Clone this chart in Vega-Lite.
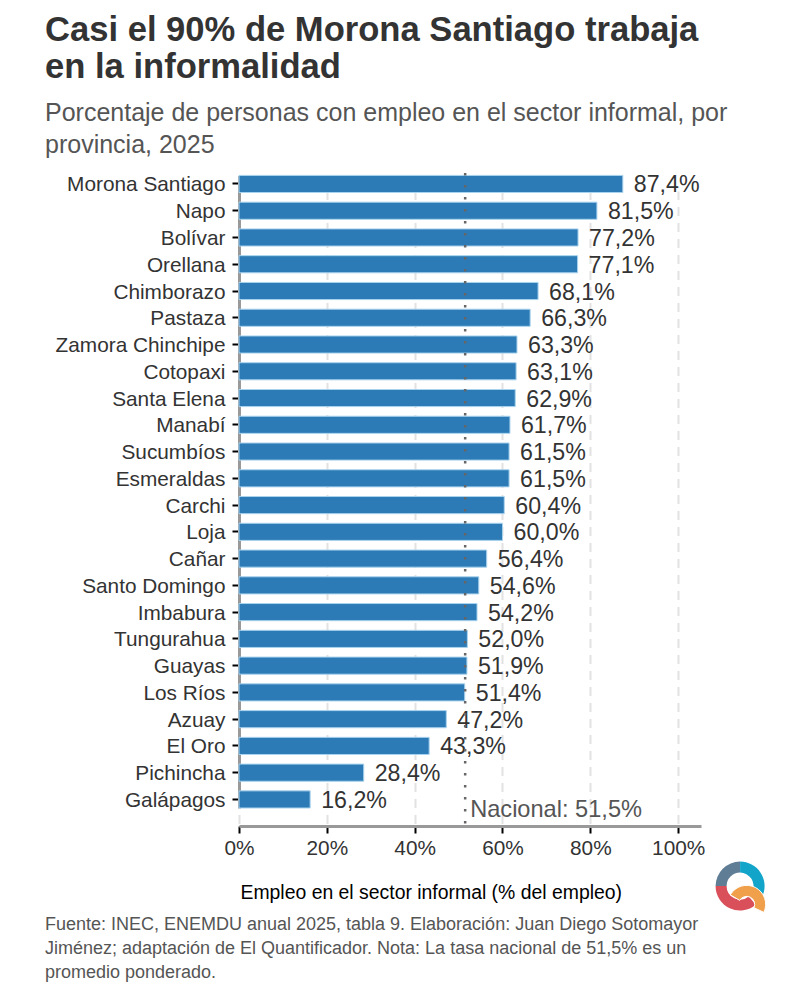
{
  "$schema": "https://vega.github.io/schema/vega-lite/v6.json",
  "width": 462,
  "height": 653,
  "autosize": {"type": "none"},
  "padding": {"left": 239, "top": 173, "right": 99, "bottom": 174},
  "background": "white",
  "view": {"stroke": null},
  "config": {"font": "Liberation Sans"},
  "title": {
    "text": ["Casi el 90% de Morona Santiago trabaja", "en la informalidad"],
    "subtitle": ["Porcentaje de personas con empleo en el sector informal, por", "provincia, 2025"],
    "anchor": "start",
    "frame": "group",
    "dx": -194,
    "offset": 13,
    "font": "Liberation Sans",
    "fontSize": 34.6,
    "fontWeight": "bold",
    "color": "#333333",
    "lineHeight": 37,
    "subtitleFont": "Liberation Sans",
    "subtitleFontSize": 25,
    "subtitleColor": "#555555",
    "subtitleLineHeight": 32,
    "subtitlePadding": 15
  },
  "data": {
    "values": [
      {"provincia": "Morona Santiago", "valor": 87.4, "etiqueta": "87,4%"},
      {"provincia": "Napo", "valor": 81.5, "etiqueta": "81,5%"},
      {"provincia": "Bolívar", "valor": 77.2, "etiqueta": "77,2%"},
      {"provincia": "Orellana", "valor": 77.1, "etiqueta": "77,1%"},
      {"provincia": "Chimborazo", "valor": 68.1, "etiqueta": "68,1%"},
      {"provincia": "Pastaza", "valor": 66.3, "etiqueta": "66,3%"},
      {"provincia": "Zamora Chinchipe", "valor": 63.3, "etiqueta": "63,3%"},
      {"provincia": "Cotopaxi", "valor": 63.1, "etiqueta": "63,1%"},
      {"provincia": "Santa Elena", "valor": 62.9, "etiqueta": "62,9%"},
      {"provincia": "Manabí", "valor": 61.7, "etiqueta": "61,7%"},
      {"provincia": "Sucumbíos", "valor": 61.5, "etiqueta": "61,5%"},
      {"provincia": "Esmeraldas", "valor": 61.5, "etiqueta": "61,5%"},
      {"provincia": "Carchi", "valor": 60.4, "etiqueta": "60,4%"},
      {"provincia": "Loja", "valor": 60.0, "etiqueta": "60,0%"},
      {"provincia": "Cañar", "valor": 56.4, "etiqueta": "56,4%"},
      {"provincia": "Santo Domingo", "valor": 54.6, "etiqueta": "54,6%"},
      {"provincia": "Imbabura", "valor": 54.2, "etiqueta": "54,2%"},
      {"provincia": "Tungurahua", "valor": 52.0, "etiqueta": "52,0%"},
      {"provincia": "Guayas", "valor": 51.9, "etiqueta": "51,9%"},
      {"provincia": "Los Ríos", "valor": 51.4, "etiqueta": "51,4%"},
      {"provincia": "Azuay", "valor": 47.2, "etiqueta": "47,2%"},
      {"provincia": "El Oro", "valor": 43.3, "etiqueta": "43,3%"},
      {"provincia": "Pichincha", "valor": 28.4, "etiqueta": "28,4%"},
      {"provincia": "Galápagos", "valor": 16.2, "etiqueta": "16,2%"}
    ]
  },
  "resolve": {"scale": {"y": "independent"}},
  "layer": [
    {
      "mark": {"type": "bar", "color": "#2c7bb6", "stroke": "#a9d3ee", "strokeWidth": 1},
      "encoding": {
        "y": {
          "field": "provincia",
          "type": "nominal",
          "sort": null,
          "title": null,
          "scale": {"range": [2.4, 635], "paddingInner": 0.36, "paddingOuter": 0},
          "axis": {
            "labelFontSize": 20.8,
            "labelColor": "#333333",
            "labelPadding": 7,
            "labelOffset": 1.5,
            "labelLimit": 220,
            "tickColor": "#000000",
            "tickSize": 7,
            "tickWidth": 2,
            "domainColor": "#999999",
            "domainWidth": 3
          }
        },
        "x": {
          "field": "valor",
          "type": "quantitative",
          "scale": {"domain": [0, 105.2], "nice": false},
          "title": "Empleo en el sector informal (% del empleo)",
          "axis": {
            "values": [0, 20, 40, 60, 80, 100],
            "labelExpr": "datum.value + '%'",
            "labelFontSize": 20.8,
            "labelColor": "#333333",
            "labelPadding": 5,
            "labelFlush": false,
            "tickColor": "#000000",
            "tickSize": 7,
            "tickWidth": 2,
            "domainColor": "#999999",
            "domainWidth": 3,
            "grid": true,
            "gridColor": "#e2e2e2",
            "gridWidth": 2,
            "gridDash": [9, 7],
            "titleFontSize": 19.4,
            "titleFontWeight": "normal",
            "titleColor": "#000000",
            "titleAnchor": "start",
            "titleAlign": "left",
            "titleX": 1,
            "titleY": 57
          }
        }
      }
    },
    {
      "mark": {"type": "text", "align": "left", "dx": 11, "dy": 1.5, "fontSize": 23.2, "color": "#333333"},
      "encoding": {
        "y": {
          "field": "provincia",
          "type": "nominal",
          "sort": null,
          "axis": null,
          "scale": {"type": "band", "range": [2.4, 635], "paddingInner": 0.36, "paddingOuter": 0}
        },
        "x": {"field": "valor", "type": "quantitative"},
        "text": {"field": "etiqueta"}
      }
    },
    {
      "data": {"values": [{"nacional": 51.5}]},
      "mark": {"type": "rule", "color": "#666666", "strokeWidth": 2.5, "strokeDash": [2.5, 9.5]},
      "encoding": {"x": {"field": "nacional", "type": "quantitative"}}
    },
    {
      "data": {"values": [{"nacional": 51.5, "pos": 2.4, "texto": "Nacional: 51,5%"}]},
      "mark": {"type": "text", "align": "left", "dx": 5, "fontSize": 23.6, "color": "#555555"},
      "encoding": {
        "x": {"field": "nacional", "type": "quantitative"},
        "y": {"field": "pos", "type": "quantitative", "axis": null, "scale": {"domain": [0, 100]}},
        "text": {"field": "texto"}
      }
    },
    {
      "data": {
        "values": [
          {"cx": 114.1, "cy": -9.2, "ini": 270, "fin": 360, "tono": "pizarra"},
          {"cx": 114.1, "cy": -9.2, "ini": 0, "fin": 112, "tono": "cian"},
          {"cx": 114.1, "cy": -9.2, "ini": 140, "fin": 270, "tono": "rojo"}
        ]
      },
      "mark": {"type": "arc", "innerRadius": 13.5, "outerRadius": 24.5},
      "encoding": {
        "x": {"field": "cx", "type": "quantitative"},
        "y": {"field": "cy", "type": "quantitative", "axis": null, "scale": {"domain": [0, 100]}},
        "theta": {"field": "ini", "type": "quantitative", "scale": {"domain": [0, 360], "range": [0, 6.2832]}},
        "theta2": {"field": "fin"},
        "color": {
          "field": "tono",
          "type": "nominal",
          "legend": null,
          "scale": {"domain": ["pizarra", "cian", "rojo"], "range": ["#5f7d95", "#12a5c9", "#d9505a"]}
        }
      }
    },
    {
      "data": {"values": [{"cx": 115.6, "cy": -12, "ini": -60, "fin": 115}]},
      "mark": {"type": "arc", "innerRadius": 8, "outerRadius": 19, "color": "#f0a04b", "stroke": "white", "strokeWidth": 1},
      "encoding": {
        "x": {"field": "cx", "type": "quantitative"},
        "y": {"field": "cy", "type": "quantitative", "axis": null, "scale": {"domain": [0, 100]}},
        "theta": {"field": "ini", "type": "quantitative", "scale": {"domain": [0, 360], "range": [0, 6.2832]}},
        "theta2": {"field": "fin"}
      }
    },
    {
      "data": {
        "values": [
          {"px": -44.2, "py": -15.2, "linea": "Fuente: INEC, ENEMDU anual 2025, tabla 9. Elaboración: Juan Diego Sotomayor"},
          {"px": -44.2, "py": -18.9, "linea": "Jiménez; adaptación de El Quantificador. Nota: La tasa nacional de 51,5% es un"},
          {"px": -44.2, "py": -22.5, "linea": "promedio ponderado."}
        ]
      },
      "mark": {"type": "text", "align": "left", "fontSize": 18, "color": "#555555", "limit": 0},
      "encoding": {
        "x": {"field": "px", "type": "quantitative"},
        "y": {"field": "py", "type": "quantitative", "axis": null, "scale": {"domain": [0, 100]}},
        "text": {"field": "linea"}
      }
    }
  ]
}
